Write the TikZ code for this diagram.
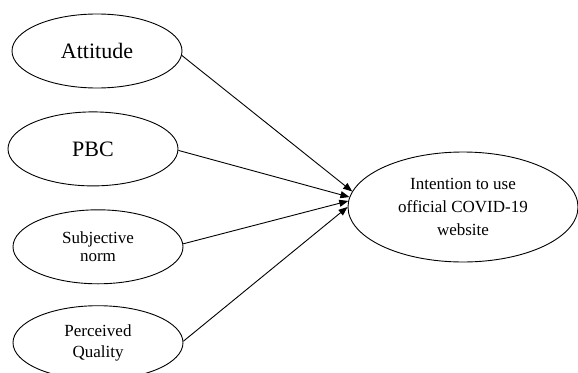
\documentclass[tikz,border=0pt]{standalone}
\usepackage{fontspec}
\setmainfont{Liberation Serif}
\usetikzlibrary{shapes.geometric,arrows.meta,positioning}

\begin{document}
\begin{tikzpicture}[
    x=1pt, y=-1pt,
    construct/.style={ellipse, draw=black, line width=0.9pt, minimum width=170pt,
                      minimum height=74pt, inner sep=0pt, align=center},
    bigtext/.style={font=\fontsize{22}{25}\selectfont},
    smalltext/.style={font=\fontsize{17}{18}\selectfont},
    outcome/.style={construct, minimum width=230pt, minimum height=110pt,
                    font=\fontsize{17}{23}\selectfont},
    arrow/.style={-{Triangle[length=9pt,width=7pt]}, line width=0.9pt},
]
\useasboundingbox (0,0) rectangle (578,372);

\node[construct,bigtext] (attitude) at (97,51) {Attitude};
\node[construct,bigtext,below=23pt of attitude,xshift=-4pt] (pbc) {PBC};
\node[construct,smalltext,below=23pt of pbc,xshift=5pt] (subjnorm) {Subjective\\norm};
\node[construct,below=21pt of subjnorm,font=\fontsize{17}{21}\selectfont] (quality) {Perceived\\Quality};

\node[outcome] (intention) at (463,207) {Intention to use\\official COVID-19\\website};

\draw[arrow] (attitude.-3) -- (intention.172);
\draw[arrow] (pbc.-1) -- (intention.175);
\draw[arrow] (subjnorm.2) -- (intention.177);
\draw[arrow] (quality.1) -- (intention.180);

\end{tikzpicture}
\end{document}
